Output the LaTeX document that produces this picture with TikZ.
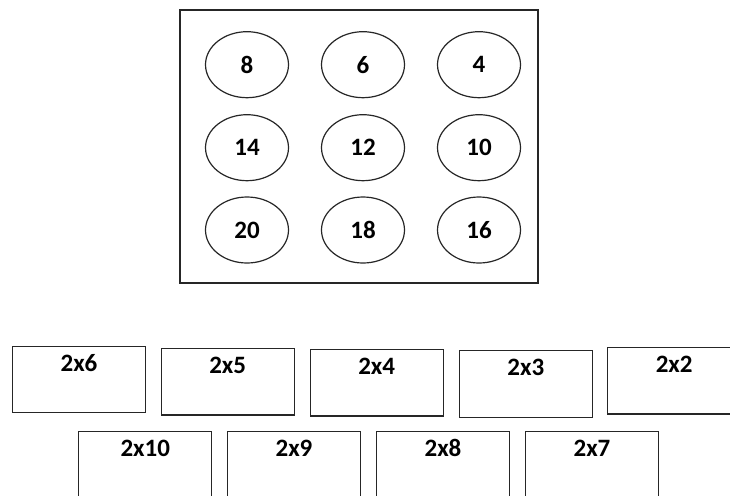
\documentclass[tikz,border=0pt]{standalone}
\usepackage{fontspec}
\setmainfont{Carlito}
\usetikzlibrary{shapes.geometric}
\begin{document}
\begin{tikzpicture}[x=1pt,y=-1pt,
  ln/.style={draw=black!85, line width=1.2pt},
  oval/.style={ln, ellipse, minimum width=83pt, minimum height=66pt, inner sep=0pt, font=\bfseries\fontsize{25}{28}\selectfont},
  card/.style={ln, rectangle, minimum width=133pt, minimum height=66.5pt, inner sep=0pt},
  lbl/.style={anchor=base, inner sep=0pt, font=\bfseries\fontsize{25}{28}\selectfont}]
\useasboundingbox (0,0) rectangle (730,495);
\node[ln, rectangle, minimum width=358pt, minimum height=273pt, inner sep=0pt] (tray) at (359,146.5) {};
% ellipses
\node[oval] (e8) at (247,64.7) {8};
\node[oval] (e6) at (363,64.7) {6};
\node[oval] (e4) at (479,64.7) {4};
\node[oval] (e14) at (247,147.7) {14};
\node[oval] (e12) at (363,147.7) {12};
\node[oval] (e10) at (479,147.7) {10};
\node[oval] (e20) at (247,230) {20};
\node[oval] (e18) at (363,230) {18};
\node[oval] (e16) at (479,230) {16};
% cards row 1
\node[card] (c6) at (79,379.5) {};
\node[lbl] (t6) at ([yshift=-25.7pt]c6.north) {2x6};
\node[card] (c5) at (227.7,381.7) {};
\node[lbl] (t5) at ([yshift=-25.7pt]c5.north) {2x5};
\node[card] (c4) at (376.7,382.7) {};
\node[lbl] (t4) at ([yshift=-25.7pt]c4.north) {2x4};
\node[card] (c3) at (525.8,384) {};
\node[lbl] (t3) at ([yshift=-25.7pt]c3.north) {2x3};
\node[card] (c2) at (674.2,380.7) {};
\node[lbl] (t2) at ([yshift=-25.7pt]c2.north) {2x2};
% cards row 2
\node[card] (c10) at (145.3,465) {};
\node[lbl] (t10) at ([yshift=-25.2pt]c10.north) {2x10};
\node[card] (c9) at (294,465) {};
\node[lbl] (t9) at ([yshift=-25.2pt]c9.north) {2x9};
\node[card] (c8) at (443,465) {};
\node[lbl] (t8) at ([yshift=-25.2pt]c8.north) {2x8};
\node[card] (c7) at (592,465) {};
\node[lbl] (t7) at ([yshift=-25.2pt]c7.north) {2x7};
\end{tikzpicture}
\end{document}
